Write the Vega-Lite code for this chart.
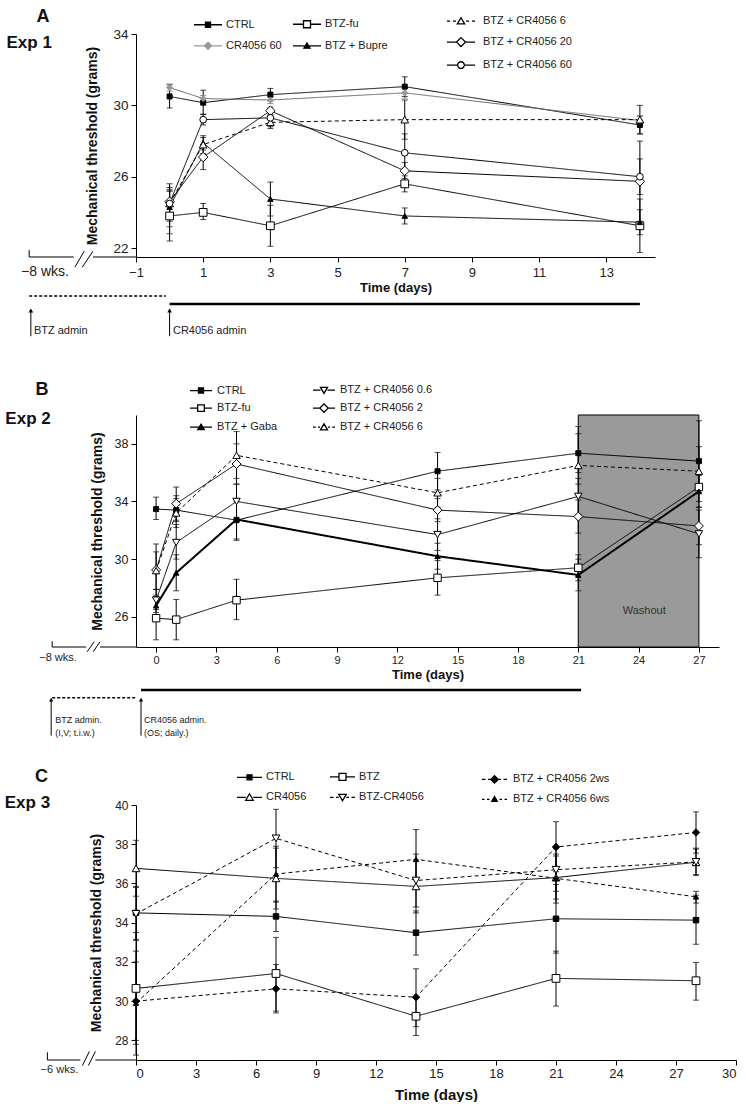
{
  "$schema": "https://vega.github.io/schema/vega-lite/v6.json",
  "background": "white",
  "padding": {"left": 4, "top": 6, "right": 0, "bottom": 0},
  "bounds": "flush",
  "spacing": 158,
  "resolve": {
    "scale": {"color": "independent", "fill": "independent", "stroke": "independent", "strokeDash": "independent", "shape": "independent", "size": "independent"},
    "legend": {"shape": "independent", "color": "independent", "fill": "independent", "stroke": "independent", "strokeDash": "independent", "size": "independent"}
  },
  "config": {
    "view": {"stroke": null},
    "font": "Liberation Sans",
    "axis": {"domainColor": "#000", "tickColor": "#000", "labelColor": "#222", "titleColor": "#111", "grid": false, "tickSize": 5, "labelFont": "Liberation Sans", "titleFont": "Liberation Sans", "titleFontWeight": "bold", "labelOverlap": false},
    "legend": {"labelFont": "Liberation Sans", "labelFontSize": 11, "labelColor": "#222", "padding": 0, "symbolStrokeWidth": 1.3, "orient": "none", "title": null}
  },
  "datasets": {
    "a": [
      {"series": "CTRL", "day": 0, "mean": 30.5, "lo": 29.85, "hi": 31.15},
      {"series": "CTRL", "day": 1, "mean": 30.15, "lo": 29.5, "hi": 30.85},
      {"series": "CTRL", "day": 3, "mean": 30.6, "lo": 30.25, "hi": 30.95},
      {"series": "CTRL", "day": 7, "mean": 31.05, "lo": 30.5, "hi": 31.6},
      {"series": "CTRL", "day": 14, "mean": 28.9, "lo": 28.4, "hi": 29.4},
      {"series": "CR4056 60", "day": 0, "mean": 31.0, "lo": 30.8, "hi": 31.2},
      {"series": "CR4056 60", "day": 1, "mean": 30.38, "lo": 30.2, "hi": 30.55},
      {"series": "CR4056 60", "day": 3, "mean": 30.3, "lo": 30.1, "hi": 30.5},
      {"series": "CR4056 60", "day": 7, "mean": 30.7, "lo": 30.4, "hi": 31.0},
      {"series": "CR4056 60", "day": 14, "mean": 29.15, "lo": 28.9, "hi": 29.4},
      {"series": "BTZ-fu", "day": 0, "mean": 23.8, "lo": 22.4, "hi": 25.2},
      {"series": "BTZ-fu", "day": 1, "mean": 24.0, "lo": 23.6, "hi": 24.5},
      {"series": "BTZ-fu", "day": 3, "mean": 23.25, "lo": 22.1, "hi": 24.4},
      {"series": "BTZ-fu", "day": 7, "mean": 25.6, "lo": 25.15, "hi": 26.05},
      {"series": "BTZ-fu", "day": 14, "mean": 23.25, "lo": 21.75, "hi": 24.75},
      {"series": "BTZ + Bupre", "day": 0, "mean": 24.3, "lo": 23.2, "hi": 25.4},
      {"series": "BTZ + Bupre", "day": 1, "mean": 27.9, "lo": 27.5, "hi": 28.3},
      {"series": "BTZ + Bupre", "day": 3, "mean": 24.75, "lo": 23.8, "hi": 25.7},
      {"series": "BTZ + Bupre", "day": 7, "mean": 23.8, "lo": 23.35, "hi": 24.25},
      {"series": "BTZ + Bupre", "day": 14, "mean": 23.45, "lo": 22.75, "hi": 24.15},
      {"series": "BTZ + CR4056 6", "day": 0, "mean": 24.5, "lo": 23.5, "hi": 25.6},
      {"series": "BTZ + CR4056 6", "day": 1, "mean": 27.8, "lo": 27.3, "hi": 28.2},
      {"series": "BTZ + CR4056 6", "day": 3, "mean": 29.05, "lo": 28.7, "hi": 29.4},
      {"series": "BTZ + CR4056 6", "day": 7, "mean": 29.2, "lo": 28.1, "hi": 30.3},
      {"series": "BTZ + CR4056 6", "day": 14, "mean": 29.2, "lo": 28.4, "hi": 30.0},
      {"series": "BTZ + CR4056 20", "day": 0, "mean": 24.6, "lo": 24.0, "hi": 25.2},
      {"series": "BTZ + CR4056 20", "day": 1, "mean": 27.1, "lo": 26.4, "hi": 27.75},
      {"series": "BTZ + CR4056 20", "day": 3, "mean": 29.7, "lo": 29.5, "hi": 29.9},
      {"series": "BTZ + CR4056 20", "day": 7, "mean": 26.33, "lo": 25.9, "hi": 26.8},
      {"series": "BTZ + CR4056 20", "day": 14, "mean": 25.74, "lo": 23.5, "hi": 28.0},
      {"series": "BTZ + CR4056 60", "day": 0, "mean": 24.5, "lo": 22.8, "hi": 25.3},
      {"series": "BTZ + CR4056 60", "day": 1, "mean": 29.2, "lo": 28.9, "hi": 29.5},
      {"series": "BTZ + CR4056 60", "day": 3, "mean": 29.3, "lo": 28.8, "hi": 29.7},
      {"series": "BTZ + CR4056 60", "day": 7, "mean": 27.34, "lo": 26.3, "hi": 28.4},
      {"series": "BTZ + CR4056 60", "day": 14, "mean": 26.0, "lo": 25.0, "hi": 27.0}
    ],
    "b": [
      {"series": "CTRL", "day": 0, "mean": 33.47, "lo": 32.75, "hi": 34.3},
      {"series": "CTRL", "day": 1, "mean": 33.4, "lo": 32.6, "hi": 34.2},
      {"series": "CTRL", "day": 4, "mean": 32.7, "lo": 31.4, "hi": 34.0},
      {"series": "CTRL", "day": 14, "mean": 36.1, "lo": 34.8, "hi": 37.4},
      {"series": "CTRL", "day": 21, "mean": 37.35, "lo": 36.0, "hi": 38.7},
      {"series": "CTRL", "day": 27, "mean": 36.8, "lo": 35.9, "hi": 37.8},
      {"series": "BTZ-fu", "day": 0, "mean": 25.9, "lo": 24.4, "hi": 27.4},
      {"series": "BTZ-fu", "day": 1, "mean": 25.8, "lo": 24.4, "hi": 27.2},
      {"series": "BTZ-fu", "day": 4, "mean": 27.15, "lo": 25.8, "hi": 28.6},
      {"series": "BTZ-fu", "day": 14, "mean": 28.7, "lo": 27.5, "hi": 29.9},
      {"series": "BTZ-fu", "day": 21, "mean": 29.4, "lo": 28.5, "hi": 30.3},
      {"series": "BTZ-fu", "day": 27, "mean": 35.0, "lo": 34.0, "hi": 36.0},
      {"series": "BTZ + Gaba", "day": 0, "mean": 26.77, "lo": 26.3, "hi": 27.3},
      {"series": "BTZ + Gaba", "day": 1, "mean": 29.05, "lo": 27.8, "hi": 30.3},
      {"series": "BTZ + Gaba", "day": 4, "mean": 32.75, "lo": 31.3, "hi": 34.2},
      {"series": "BTZ + Gaba", "day": 14, "mean": 30.2, "lo": 29.3, "hi": 31.1},
      {"series": "BTZ + Gaba", "day": 21, "mean": 28.9, "lo": 27.8, "hi": 30.0},
      {"series": "BTZ + Gaba", "day": 27, "mean": 34.7, "lo": 33.6, "hi": 35.8},
      {"series": "BTZ + CR4056 0.6", "day": 0, "mean": 27.15, "lo": 26.5, "hi": 27.9},
      {"series": "BTZ + CR4056 0.6", "day": 1, "mean": 31.15, "lo": 30.0, "hi": 32.4},
      {"series": "BTZ + CR4056 0.6", "day": 4, "mean": 34.0, "lo": 32.9, "hi": 35.2},
      {"series": "BTZ + CR4056 0.6", "day": 14, "mean": 31.7, "lo": 30.6, "hi": 32.8},
      {"series": "BTZ + CR4056 0.6", "day": 21, "mean": 34.35, "lo": 33.1, "hi": 35.6},
      {"series": "BTZ + CR4056 0.6", "day": 27, "mean": 31.75, "lo": 30.1, "hi": 33.4},
      {"series": "BTZ + CR4056 2", "day": 0, "mean": 29.25, "lo": 27.5, "hi": 31.05},
      {"series": "BTZ + CR4056 2", "day": 1, "mean": 33.85, "lo": 32.7, "hi": 35.0},
      {"series": "BTZ + CR4056 2", "day": 4, "mean": 36.6, "lo": 35.2, "hi": 38.0},
      {"series": "BTZ + CR4056 2", "day": 14, "mean": 33.4, "lo": 32.6, "hi": 34.2},
      {"series": "BTZ + CR4056 2", "day": 21, "mean": 32.95, "lo": 31.8, "hi": 34.1},
      {"series": "BTZ + CR4056 2", "day": 27, "mean": 32.3, "lo": 31.0, "hi": 33.6},
      {"series": "BTZ + CR4056 6", "day": 0, "mean": 29.2, "lo": 27.9, "hi": 30.5},
      {"series": "BTZ + CR4056 6", "day": 1, "mean": 33.2, "lo": 32.2, "hi": 34.4},
      {"series": "BTZ + CR4056 6", "day": 4, "mean": 37.2, "lo": 35.6, "hi": 38.85},
      {"series": "BTZ + CR4056 6", "day": 14, "mean": 34.6, "lo": 33.6, "hi": 35.6},
      {"series": "BTZ + CR4056 6", "day": 21, "mean": 36.5, "lo": 35.2, "hi": 39.2},
      {"series": "BTZ + CR4056 6", "day": 27, "mean": 36.1, "lo": 34.6, "hi": 39.6}
    ],
    "c": [
      {"series": "CTRL", "day": 0, "mean": 34.5, "lo": 33.15, "hi": 35.85},
      {"series": "CTRL", "day": 7, "mean": 34.32, "lo": 33.55, "hi": 35.1},
      {"series": "CTRL", "day": 14, "mean": 33.49, "lo": 32.35, "hi": 34.6},
      {"series": "CTRL", "day": 21, "mean": 34.2, "lo": 32.45, "hi": 35.95},
      {"series": "CTRL", "day": 28, "mean": 34.13, "lo": 32.9, "hi": 35.4},
      {"series": "CR4056", "day": 0, "mean": 36.77, "lo": 35.35, "hi": 38.2},
      {"series": "CR4056", "day": 7, "mean": 36.26, "lo": 34.7, "hi": 37.8},
      {"series": "CR4056", "day": 14, "mean": 35.85, "lo": 34.5, "hi": 37.2},
      {"series": "CR4056", "day": 21, "mean": 36.3, "lo": 35.2, "hi": 37.4},
      {"series": "CR4056", "day": 28, "mean": 37.08, "lo": 36.45, "hi": 37.75},
      {"series": "BTZ", "day": 0, "mean": 30.65, "lo": 27.8, "hi": 33.5},
      {"series": "BTZ", "day": 7, "mean": 31.41, "lo": 29.4, "hi": 33.25},
      {"series": "BTZ", "day": 14, "mean": 29.23, "lo": 28.25, "hi": 30.2},
      {"series": "BTZ", "day": 21, "mean": 31.16, "lo": 29.75, "hi": 32.55},
      {"series": "BTZ", "day": 28, "mean": 31.04, "lo": 30.05, "hi": 31.97},
      {"series": "BTZ-CR4056", "day": 0, "mean": 34.45, "lo": 33.1, "hi": 35.8},
      {"series": "BTZ-CR4056", "day": 7, "mean": 38.3, "lo": 36.8, "hi": 39.78},
      {"series": "BTZ-CR4056", "day": 14, "mean": 36.15, "lo": 34.8, "hi": 37.5},
      {"series": "BTZ-CR4056", "day": 21, "mean": 36.7, "lo": 35.6, "hi": 37.8},
      {"series": "BTZ-CR4056", "day": 28, "mean": 37.1, "lo": 36.4, "hi": 37.8},
      {"series": "BTZ + CR4056 2ws", "day": 0, "mean": 30.0, "lo": 28.0, "hi": 32.0},
      {"series": "BTZ + CR4056 2ws", "day": 7, "mean": 30.63, "lo": 29.49, "hi": 31.87},
      {"series": "BTZ + CR4056 2ws", "day": 14, "mean": 30.2, "lo": 28.7, "hi": 31.65},
      {"series": "BTZ + CR4056 2ws", "day": 21, "mean": 37.86, "lo": 36.6, "hi": 39.15},
      {"series": "BTZ + CR4056 2ws", "day": 28, "mean": 38.6, "lo": 37.55, "hi": 39.65},
      {"series": "BTZ + CR4056 6ws", "day": 0, "mean": 29.9, "lo": 27.25, "hi": 32.55},
      {"series": "BTZ + CR4056 6ws", "day": 7, "mean": 36.48, "lo": 35.05, "hi": 37.9},
      {"series": "BTZ + CR4056 6ws", "day": 14, "mean": 37.23, "lo": 35.7, "hi": 38.75},
      {"series": "BTZ + CR4056 6ws", "day": 21, "mean": 36.26, "lo": 35.0, "hi": 37.5},
      {"series": "BTZ + CR4056 6ws", "day": 28, "mean": 35.32, "lo": 35.0, "hi": 35.6}
    ]
  },
  "vconcat": [
    {
      "width": 519,
      "height": 223,
      "data": {"name": "a"},
      "layer": [
        {
          "mark": {"type": "rule", "strokeWidth": 1},
          "encoding": {
            "x": {"field": "day", "type": "quantitative", "scale": {"domain": [-1, 14.45], "nice": false, "zero": false},
              "axis": {"values": [-1, 0, 1, 2, 3, 4, 5, 6, 7, 8, 9, 10, 11, 12, 13, 14], "labelExpr": "datum.value === 0 ? '' : datum.label", "labelOverlap": false, "labelFlush": false, "title": "Time (days)", "labelFontSize": 13, "titleFontSize": 13, "labelPadding": 4, "titlePadding": 2}},
            "y": {"field": "lo", "type": "quantitative", "scale": {"domain": [21.5, 34], "nice": false, "zero": false},
              "axis": {"values": [22, 24, 26, 28, 30, 32, 34], "title": "Mechanical threshold (grams)", "labelFontSize": 13.5, "titleFontSize": 14, "labelPadding": 3, "titlePadding": 13}},
            "y2": {"field": "hi"},
            "color": {"field": "series", "type": "nominal", "scale": {"domain": ["CTRL", "CR4056 60", "BTZ-fu", "BTZ + Bupre", "BTZ + CR4056 6", "BTZ + CR4056 20", "BTZ + CR4056 60"], "range": ["#000", "#666", "#000", "#000", "#000", "#000", "#000"]}, "legend": null}
          }
        },
        {
          "mark": {"type": "tick", "orient": "horizontal", "size": 6, "thickness": 1},
          "encoding": {"x": {"field": "day", "type": "quantitative"}, "y": {"field": "lo", "type": "quantitative"}, "color": {"field": "series", "type": "nominal", "legend": null}}
        },
        {
          "mark": {"type": "tick", "orient": "horizontal", "size": 6, "thickness": 1},
          "encoding": {"x": {"field": "day", "type": "quantitative"}, "y": {"field": "hi", "type": "quantitative"}, "color": {"field": "series", "type": "nominal", "legend": null}}
        },
        {
          "mark": {"type": "line", "strokeWidth": 1},
          "encoding": {
            "x": {"field": "day", "type": "quantitative"},
            "y": {"field": "mean", "type": "quantitative"},
            "color": {"field": "series", "type": "nominal", "legend": null},
            "strokeDash": {"field": "series", "type": "nominal", "scale": {"domain": ["CTRL", "CR4056 60", "BTZ-fu", "BTZ + Bupre", "BTZ + CR4056 6", "BTZ + CR4056 20", "BTZ + CR4056 60"], "range": [[1, 0], [1, 0], [1, 0], [1, 0], [4, 3], [1, 0], [1, 0]]}, "legend": null}
          }
        },
        {
          "transform": [{"filter": {"field": "series", "oneOf": ["CTRL", "CR4056 60", "BTZ-fu", "BTZ + Bupre"]}}],
          "mark": {"type": "point", "filled": true, "opacity": 1, "strokeWidth": 1},
          "encoding": {
            "x": {"field": "day", "type": "quantitative"},
            "y": {"field": "mean", "type": "quantitative"},
            "shape": {"field": "series", "type": "nominal", "scale": {"domain": ["BTZ + Bupre", "BTZ-fu", "CR4056 60", "CTRL"], "range": ["triangle-up", "square", "diamond", "square"]}, "legend": null},
            "fill": {"field": "series", "type": "nominal", "scale": {"domain": ["CTRL", "CR4056 60", "BTZ-fu", "BTZ + Bupre"], "range": ["#000", "#999", "#fff", "#000"]},
              "legend": {"orient": "none", "legendX": 57, "legendY": -25.2, "columns": 2, "columnPadding": 8, "rowPadding": -6, "symbolSize": 784, "labelOffset": 3,
                "encoding": {"symbols": {
                  "shape": {"value": {"expr": "datum.value === 'CTRL' ? 'M-1,0H1M-0.18,-0.18H0.18V0.18H-0.18Z' : datum.value === 'CR4056 60' ? 'M-1,0H1M0,-0.25L0.25,0L0,0.25L-0.25,0Z' : datum.value === 'BTZ-fu' ? 'M-1,0H-0.25M0.25,0H1M-0.25,-0.25H0.25V0.25H-0.25Z' : 'M-1,0H1M0,-0.2L0.22,0.17L-0.22,0.17Z'"}},
                  "stroke": {"value": {"expr": "datum.value === 'CR4056 60' ? '#999' : '#000'"}},
                  "opacity": {"value": 1}
                }}}},
            "stroke": {"field": "series", "type": "nominal", "scale": {"domain": ["BTZ-fu", "CTRL", "BTZ + Bupre", "CR4056 60"], "range": ["#000", "#000", "#000", "#999"]}, "legend": null},
            "size": {"condition": [{"test": "datum.series === 'CTRL'", "value": 25}, {"test": "datum.series === 'BTZ + Bupre'", "value": 30}, {"test": "datum.series === 'CR4056 60'", "value": 36}], "value": 60}
          }
        },
        {
          "transform": [{"filter": {"field": "series", "oneOf": ["BTZ + CR4056 6", "BTZ + CR4056 20", "BTZ + CR4056 60"]}}],
          "mark": {"type": "point", "filled": true, "opacity": 1, "strokeWidth": 1, "stroke": "#000"},
          "encoding": {
            "x": {"field": "day", "type": "quantitative"},
            "y": {"field": "mean", "type": "quantitative"},
            "shape": {"field": "series", "type": "nominal", "scale": {"domain": ["BTZ + CR4056 60", "BTZ + CR4056 20", "BTZ + CR4056 6"], "range": ["circle", "diamond", "triangle-up"]}, "legend": null},
            "fill": {"field": "series", "type": "nominal", "scale": {"domain": ["BTZ + CR4056 6", "BTZ + CR4056 20", "BTZ + CR4056 60"], "range": ["#fff", "#fff", "#fff"]},
              "legend": {"orient": "none", "legendX": 310, "legendY": -27.9, "columns": 1, "rowPadding": -4.5, "symbolSize": 784, "labelOffset": 7,
                "encoding": {"symbols": {
                  "shape": {"value": {"expr": "datum.value === 'BTZ + CR4056 6' ? 'M-1,0H-0.78M-0.58,0H-0.36M0.36,0H0.58M0.78,0H1M0,-0.24L0.26,0.2L-0.26,0.2Z' : datum.value === 'BTZ + CR4056 20' ? 'M-1,0H-0.32M0.32,0H1M0,-0.32L0.32,0L0,0.32L-0.32,0Z' : 'M-1,0H-0.24M0.24,0H1M0.24,0A0.24,0.24,0,1,1,-0.24,0A0.24,0.24,0,1,1,0.24,0Z'"}},
                  "stroke": {"value": "#000"},
                  "opacity": {"value": 1}
                }}}},
            "size": {"condition": [{"test": "datum.series === 'BTZ + CR4056 20'", "value": 90}, {"test": "datum.series === 'BTZ + CR4056 60'", "value": 45}], "value": 60}
          }
        },
        {"data": {"values": [{}]}, "mark": {"type": "rule", "color": "#000", "strokeWidth": 1}, "encoding": {"x": {"datum": -2.28}, "x2": {"datum": -1}, "y": {"datum": 21.5}}},
        {"data": {"values": [{}]}, "mark": {"type": "rule", "color": "#000", "strokeWidth": 1}, "encoding": {"x": {"datum": -4.18}, "x2": {"datum": -2.85}, "y": {"datum": 21.5}}},
        {"data": {"values": [{}]}, "mark": {"type": "rule", "color": "#000", "strokeWidth": 1}, "encoding": {"x": {"datum": -4.18}, "y": {"datum": 21.5}, "y2": {"datum": 21.9}}},
        {"data": {"values": [{}]}, "mark": {"type": "rule", "color": "#000", "strokeWidth": 1}, "encoding": {"x": {"datum": -2.82}, "x2": {"datum": -2.54}, "y": {"datum": 20.93}, "y2": {"datum": 21.83}}},
        {"data": {"values": [{}]}, "mark": {"type": "rule", "color": "#000", "strokeWidth": 1}, "encoding": {"x": {"datum": -2.6}, "x2": {"datum": -2.28}, "y": {"datum": 20.93}, "y2": {"datum": 21.83}}},
        {"data": {"values": [{}]}, "mark": {"type": "text", "text": "\u22128 wks.", "fontSize": 14, "align": "center", "baseline": "middle", "color": "#222"}, "encoding": {"x": {"datum": -3.71}, "y": {"datum": 20.65}}},
        {"data": {"values": [{}]}, "mark": {"type": "rule", "color": "#000", "strokeWidth": 1.5, "strokeDash": [3, 2]}, "encoding": {"x": {"datum": -4.18}, "x2": {"datum": -0.11}, "y": {"datum": 19.31}}},
        {"data": {"values": [{}]}, "mark": {"type": "rule", "color": "#000", "strokeWidth": 2.5}, "encoding": {"x": {"datum": 0}, "x2": {"datum": 14}, "y": {"datum": 18.86}}},
        {"data": {"values": [{}]}, "mark": {"type": "rule", "color": "#000", "strokeWidth": 1}, "encoding": {"x": {"datum": -4.13}, "y": {"datum": 17.06}, "y2": {"datum": 18.5}}},
        {"data": {"values": [{}]}, "mark": {"type": "rule", "color": "#000", "strokeWidth": 1}, "encoding": {"x": {"datum": 0}, "y": {"datum": 17.06}, "y2": {"datum": 18.5}}},
        {"data": {"values": [{}]}, "mark": {"type": "point", "shape": "triangle-up", "filled": true, "color": "#000", "size": 22, "opacity": 1}, "encoding": {"x": {"datum": -4.13}, "y": {"datum": 18.5}}},
        {"data": {"values": [{}]}, "mark": {"type": "point", "shape": "triangle-up", "filled": true, "color": "#000", "size": 22, "opacity": 1}, "encoding": {"x": {"datum": 0}, "y": {"datum": 18.5}}},
        {"data": {"values": [{}]}, "mark": {"type": "text", "text": "BTZ admin", "fontSize": 11, "align": "left", "baseline": "middle", "color": "#222"}, "encoding": {"x": {"datum": -4.04}, "y": {"datum": 17.34}}},
        {"data": {"values": [{}]}, "mark": {"type": "text", "text": "CR4056 admin", "fontSize": 11, "align": "left", "baseline": "middle", "color": "#222"}, "encoding": {"x": {"datum": 0.1}, "y": {"datum": 17.34}}},
        {"data": {"values": [{}]}, "mark": {"type": "text", "text": "A", "fontSize": 18, "fontWeight": "bold", "align": "center", "baseline": "middle", "color": "#111"}, "encoding": {"x": {"datum": -3.77}, "y": {"datum": 34.98}}},
        {"data": {"values": [{}]}, "mark": {"type": "text", "text": "Exp 1", "fontSize": 17, "fontWeight": "bold", "align": "center", "baseline": "middle", "color": "#111"}, "encoding": {"x": {"datum": -4.18}, "y": {"datum": 33.52}}}
      ],
      "resolve": {"scale": {"shape": "independent", "fill": "independent", "stroke": "independent", "strokeDash": "independent"}, "legend": {"fill": "independent"}}
    },
    {
      "width": 583,
      "height": 232,
      "data": {"name": "b"},
      "layer": [
        {"data": {"values": [{}]}, "mark": {"type": "rect", "fill": "#9a9a9a", "stroke": "#000", "strokeWidth": 1}, "encoding": {
          "x": {"datum": 21, "type": "quantitative", "scale": {"domain": [-1, 28], "nice": false, "zero": false},
            "axis": {"values": [0, 3, 6, 9, 12, 15, 18, 21, 24, 27], "labelOverlap": false, "title": "Time (days)", "labelFontSize": 11, "titleFontSize": 13, "labelPadding": 2, "titlePadding": 3}},
          "x2": {"datum": 27},
          "y": {"datum": 23.9, "type": "quantitative", "scale": {"domain": [23.9, 40], "nice": false, "zero": false},
            "axis": {"values": [26, 28, 30, 32, 34, 36, 38, 40], "title": "Mechanical threshold (grams)", "labelFontSize": 12.5, "titleFontSize": 14, "labelPadding": 3, "titlePadding": 10}},
          "y2": {"datum": 40}}},
        {"data": {"values": [{}]}, "mark": {"type": "text", "text": "Washout", "fontSize": 11, "align": "center", "baseline": "middle", "color": "#333"}, "encoding": {"x": {"datum": 24.28}, "y": {"datum": 26.42}}},
        {
          "mark": {"type": "rule", "strokeWidth": 1, "color": "#000"},
          "encoding": {
            "x": {"field": "day", "type": "quantitative"},
            "y": {"field": "lo", "type": "quantitative"},
            "y2": {"field": "hi"}
          }
        },
        {
          "mark": {"type": "tick", "orient": "horizontal", "size": 6, "thickness": 1, "color": "#000"},
          "encoding": {"x": {"field": "day", "type": "quantitative"}, "y": {"field": "lo", "type": "quantitative"}}
        },
        {
          "mark": {"type": "tick", "orient": "horizontal", "size": 6, "thickness": 1, "color": "#000"},
          "encoding": {"x": {"field": "day", "type": "quantitative"}, "y": {"field": "hi", "type": "quantitative"}}
        },
        {
          "mark": {"type": "line", "color": "#000"},
          "encoding": {
            "x": {"field": "day", "type": "quantitative"},
            "y": {"field": "mean", "type": "quantitative"},
            "detail": {"field": "series", "type": "nominal"},
            "strokeWidth": {"condition": {"test": "datum.series === 'BTZ + Gaba'", "value": 2}, "value": 1},
            "strokeDash": {"field": "series", "type": "nominal", "scale": {"domain": ["BTZ + CR4056 6", "CTRL", "BTZ-fu", "BTZ + Gaba", "BTZ + CR4056 0.6", "BTZ + CR4056 2"], "range": [[4, 3], [1, 0], [1, 0], [1, 0], [1, 0], [1, 0]]}, "legend": null}
          }
        },
        {
          "mark": {"type": "point", "filled": true, "opacity": 1, "strokeWidth": 1, "stroke": "#000"},
          "encoding": {
            "x": {"field": "day", "type": "quantitative"},
            "y": {"field": "mean", "type": "quantitative"},
            "shape": {"field": "series", "type": "nominal", "scale": {"domain": ["BTZ + CR4056 6", "BTZ + CR4056 2", "BTZ + CR4056 0.6", "BTZ + Gaba", "BTZ-fu", "CTRL"], "range": ["triangle-up", "diamond", "triangle-down", "triangle-up", "square", "square"]}, "legend": null},
            "fill": {"field": "series", "type": "nominal", "scale": {"domain": ["CTRL", "BTZ-fu", "BTZ + Gaba", "BTZ + CR4056 0.6", "BTZ + CR4056 2", "BTZ + CR4056 6"], "range": ["#000", "#fff", "#000", "#fff", "#fff", "#fff"]},
              "legend": {"orient": "none", "legendX": 53, "legendY": -36.9, "columns": 2, "columnPadding": 32, "rowPadding": -4.1, "symbolSize": 484, "labelOffset": 4,
                "encoding": {"symbols": {
                  "shape": {"value": {"expr": "datum.value === 'CTRL' ? 'M-1,0H1M-0.23,-0.23H0.23V0.23H-0.23Z' : datum.value === 'BTZ-fu' ? 'M-1,0H-0.3M0.3,0H1M-0.3,-0.3H0.3V0.3H-0.3Z' : datum.value === 'BTZ + Gaba' ? 'M-1,0H1M0,-0.27L0.3,0.22L-0.3,0.22Z' : datum.value === 'BTZ + CR4056 0.6' ? 'M-1,0H-0.32M0.32,0H1M0,0.3L0.32,-0.25L-0.32,-0.25Z' : datum.value === 'BTZ + CR4056 2' ? 'M-1,0H-0.38M0.38,0H1M0,-0.38L0.38,0L0,0.38L-0.38,0Z' : 'M-1,0H-0.75M-0.55,0H-0.35M0.35,0H0.55M0.75,0H1M0,-0.3L0.32,0.25L-0.32,0.25Z'"}},
                  "stroke": {"value": "#000"},
                  "opacity": {"value": 1}
                }}}},
            "size": {"condition": [{"test": "datum.series === 'CTRL'", "value": 25}, {"test": "datum.series === 'BTZ + Gaba'", "value": 30}, {"test": "datum.series === 'BTZ + CR4056 2'", "value": 80}], "value": 55}
          }
        },
        {"data": {"values": [{}]}, "mark": {"type": "rule", "color": "#000", "strokeWidth": 1}, "encoding": {"x": {"datum": -2.79}, "x2": {"datum": -1}, "y": {"datum": 23.9}}},
        {"data": {"values": [{}]}, "mark": {"type": "rule", "color": "#000", "strokeWidth": 1}, "encoding": {"x": {"datum": -5.17}, "x2": {"datum": -3.48}, "y": {"datum": 23.9}}},
        {"data": {"values": [{}]}, "mark": {"type": "rule", "color": "#000", "strokeWidth": 1}, "encoding": {"x": {"datum": -5.17}, "y": {"datum": 23.9}, "y2": {"datum": 24.3}}},
        {"data": {"values": [{}]}, "mark": {"type": "rule", "color": "#000", "strokeWidth": 1}, "encoding": {"x": {"datum": -3.43}, "x2": {"datum": -3.08}, "y": {"datum": 23.57}, "y2": {"datum": 24.26}}},
        {"data": {"values": [{}]}, "mark": {"type": "rule", "color": "#000", "strokeWidth": 1}, "encoding": {"x": {"datum": -3.13}, "x2": {"datum": -2.79}, "y": {"datum": 23.57}, "y2": {"datum": 24.26}}},
        {"data": {"values": [{}]}, "mark": {"type": "text", "text": "\u22128 wks.", "fontSize": 11, "align": "center", "baseline": "middle", "color": "#222"}, "encoding": {"x": {"datum": -4.88}, "y": {"datum": 23.15}}},
        {"data": {"values": [{}]}, "mark": {"type": "rule", "color": "#000", "strokeWidth": 1.5, "strokeDash": [3, 2]}, "encoding": {"x": {"datum": -5.17}, "x2": {"datum": -0.95}, "y": {"datum": 20.38}}},
        {"data": {"values": [{}]}, "mark": {"type": "rule", "color": "#000", "strokeWidth": 2.5}, "encoding": {"x": {"datum": -0.75}, "x2": {"datum": 21.14}, "y": {"datum": 20.92}}},
        {"data": {"values": [{}]}, "mark": {"type": "rule", "color": "#000", "strokeWidth": 1}, "encoding": {"x": {"datum": -5.22}, "y": {"datum": 17.75}, "y2": {"datum": 20.25}}},
        {"data": {"values": [{}]}, "mark": {"type": "rule", "color": "#000", "strokeWidth": 1}, "encoding": {"x": {"datum": -0.75}, "y": {"datum": 17.75}, "y2": {"datum": 20.25}}},
        {"data": {"values": [{}]}, "mark": {"type": "point", "shape": "triangle-up", "filled": true, "color": "#000", "size": 18, "opacity": 1}, "encoding": {"x": {"datum": -5.22}, "y": {"datum": 20.25}}},
        {"data": {"values": [{}]}, "mark": {"type": "point", "shape": "triangle-up", "filled": true, "color": "#000", "size": 18, "opacity": 1}, "encoding": {"x": {"datum": -0.75}, "y": {"datum": 20.25}}},
        {"data": {"values": [{}]}, "mark": {"type": "text", "text": "BTZ admin.", "fontSize": 9, "align": "left", "baseline": "middle", "color": "#222"}, "encoding": {"x": {"datum": -5.02}, "y": {"datum": 18.83}}},
        {"data": {"values": [{}]}, "mark": {"type": "text", "text": "(I,V; t.i.w.)", "fontSize": 9, "align": "left", "baseline": "middle", "color": "#222"}, "encoding": {"x": {"datum": -5.02}, "y": {"datum": 17.92}}},
        {"data": {"values": [{}]}, "mark": {"type": "text", "text": "CR4056 admin.", "fontSize": 9, "align": "left", "baseline": "middle", "color": "#222"}, "encoding": {"x": {"datum": -0.6}, "y": {"datum": 18.83}}},
        {"data": {"values": [{}]}, "mark": {"type": "text", "text": "(OS; daily.)", "fontSize": 9, "align": "left", "baseline": "middle", "color": "#222"}, "encoding": {"x": {"datum": -0.6}, "y": {"datum": 17.92}}},
        {"data": {"values": [{}]}, "mark": {"type": "text", "text": "B", "fontSize": 18, "fontWeight": "bold", "align": "center", "baseline": "middle", "color": "#111"}, "encoding": {"x": {"datum": -5.67}, "y": {"datum": 41.74}}},
        {"data": {"values": [{}]}, "mark": {"type": "text", "text": "Exp 2", "fontSize": 17, "fontWeight": "bold", "align": "center", "baseline": "middle", "color": "#111"}, "encoding": {"x": {"datum": -6.37}, "y": {"datum": 39.72}}}
      ],
      "resolve": {"scale": {"shape": "independent", "fill": "independent", "strokeDash": "independent"}, "legend": {"fill": "independent"}}
    },
    {
      "width": 600,
      "height": 255,
      "data": {"name": "c"},
      "layer": [
        {
          "mark": {"type": "rule", "strokeWidth": 1, "color": "#000"},
          "encoding": {
            "x": {"field": "day", "type": "quantitative", "scale": {"domain": [0, 30], "nice": false, "zero": false},
              "axis": {"values": [0, 3, 6, 9, 12, 15, 18, 21, 24, 27, 30], "labelOverlap": false, "title": "Time (days)", "labelFontSize": 13, "titleFontSize": 15, "labelPadding": 2, "titlePadding": 7}},
            "y": {"field": "lo", "type": "quantitative", "scale": {"domain": [27, 40], "nice": false, "zero": false},
              "axis": {"values": [28, 30, 32, 34, 36, 38, 40], "title": "Mechanical threshold (grams)", "labelFontSize": 12, "titleFontSize": 14, "labelPadding": 3, "titlePadding": 11}},
            "y2": {"field": "hi"}
          }
        },
        {
          "mark": {"type": "tick", "orient": "horizontal", "size": 6, "thickness": 1, "color": "#000"},
          "encoding": {"x": {"field": "day", "type": "quantitative"}, "y": {"field": "lo", "type": "quantitative"}}
        },
        {
          "mark": {"type": "tick", "orient": "horizontal", "size": 6, "thickness": 1, "color": "#000"},
          "encoding": {"x": {"field": "day", "type": "quantitative"}, "y": {"field": "hi", "type": "quantitative"}}
        },
        {
          "mark": {"type": "line", "strokeWidth": 1, "color": "#000"},
          "encoding": {
            "x": {"field": "day", "type": "quantitative"},
            "y": {"field": "mean", "type": "quantitative"},
            "detail": {"field": "series", "type": "nominal"},
            "strokeDash": {"field": "series", "type": "nominal", "scale": {"domain": ["CTRL", "CR4056", "BTZ", "BTZ-CR4056", "BTZ + CR4056 2ws", "BTZ + CR4056 6ws"], "range": [[1, 0], [1, 0], [1, 0], [4, 3], [4, 3], [4, 3]]}, "legend": null}
          }
        },
        {
          "transform": [{"filter": {"field": "series", "oneOf": ["CTRL", "BTZ", "CR4056", "BTZ-CR4056"]}}],
          "mark": {"type": "point", "filled": true, "opacity": 1, "strokeWidth": 1, "stroke": "#000"},
          "encoding": {
            "x": {"field": "day", "type": "quantitative"},
            "y": {"field": "mean", "type": "quantitative"},
            "shape": {"field": "series", "type": "nominal", "scale": {"domain": ["BTZ-CR4056", "BTZ", "CR4056", "CTRL"], "range": ["triangle-down", "square", "triangle-up", "square"]}, "legend": null},
            "fill": {"field": "series", "type": "nominal", "scale": {"domain": ["CTRL", "CR4056", "BTZ", "BTZ-CR4056"], "range": ["#000", "#fff", "#fff", "#fff"]},
              "legend": {"orient": "none", "legendX": 100, "legendY": -41.9, "columns": 2, "columnPadding": 20, "rowPadding": 0.7, "symbolSize": 625, "labelOffset": 3,
                "encoding": {"symbols": {
                  "shape": {"value": {"expr": "datum.value === 'CTRL' ? 'M-1,0H1M-0.2,-0.2H0.2V0.2H-0.2Z' : datum.value === 'BTZ' ? 'M-1,0H-0.28M0.28,0H1M-0.28,-0.28H0.28V0.28H-0.28Z' : datum.value === 'CR4056' ? 'M-1,0H-0.3M0.3,0H1M0,-0.28L0.3,0.24L-0.3,0.24Z' : 'M-1,0H-0.72M-0.52,0H-0.3M0.3,0H0.52M0.72,0H1M0,0.28L0.3,-0.24L-0.3,-0.24Z'"}},
                  "stroke": {"value": "#000"},
                  "opacity": {"value": 1}
                }}}},
            "size": {"condition": [{"test": "datum.series === 'CTRL'", "value": 30}], "value": 60}
          }
        },
        {
          "transform": [{"filter": {"field": "series", "oneOf": ["BTZ + CR4056 2ws", "BTZ + CR4056 6ws"]}}],
          "mark": {"type": "point", "filled": true, "opacity": 1, "strokeWidth": 1, "stroke": "#000"},
          "encoding": {
            "x": {"field": "day", "type": "quantitative"},
            "y": {"field": "mean", "type": "quantitative"},
            "shape": {"field": "series", "type": "nominal", "scale": {"domain": ["BTZ + CR4056 6ws", "BTZ + CR4056 2ws"], "range": ["triangle-up", "diamond"]}, "legend": null},
            "fill": {"field": "series", "type": "nominal", "scale": {"domain": ["BTZ + CR4056 2ws", "BTZ + CR4056 6ws"], "range": ["#000", "#000"]},
              "legend": {"orient": "none", "legendX": 345, "legendY": -39.1, "columns": 1, "rowPadding": -5.8, "symbolSize": 625, "labelOffset": 5,
                "encoding": {"symbols": {
                  "shape": {"value": {"expr": "datum.value === 'BTZ + CR4056 2ws' ? 'M-1,0H-0.72M-0.52,0H-0.3M0.3,0H0.52M0.72,0H1M0,-0.3L0.3,0L0,0.3L-0.3,0Z' : 'M-1,0H-0.8M-0.6,0H-0.4M-0.2,0H0.2M0.4,0H0.6M0.8,0H1M0,-0.22L0.22,0.16L-0.22,0.16Z'"}},
                  "stroke": {"value": "#000"},
                  "opacity": {"value": 1}
                }}}},
            "size": {"condition": [{"test": "datum.series === 'BTZ + CR4056 6ws'", "value": 28}], "value": 55}
          }
        },
        {"data": {"values": [{}]}, "mark": {"type": "rule", "color": "#000", "strokeWidth": 1}, "encoding": {"x": {"datum": -2.03}, "x2": {"datum": 0}, "y": {"datum": 27}}},
        {"data": {"values": [{}]}, "mark": {"type": "rule", "color": "#000", "strokeWidth": 1}, "encoding": {"x": {"datum": -4.43}, "x2": {"datum": -2.78}, "y": {"datum": 27}}},
        {"data": {"values": [{}]}, "mark": {"type": "rule", "color": "#000", "strokeWidth": 1}, "encoding": {"x": {"datum": -4.43}, "y": {"datum": 27}, "y2": {"datum": 27.39}}},
        {"data": {"values": [{}]}, "mark": {"type": "rule", "color": "#000", "strokeWidth": 1}, "encoding": {"x": {"datum": -2.68}, "x2": {"datum": -2.33}, "y": {"datum": 26.72}, "y2": {"datum": 27.44}}},
        {"data": {"values": [{}]}, "mark": {"type": "rule", "color": "#000", "strokeWidth": 1}, "encoding": {"x": {"datum": -2.38}, "x2": {"datum": -2.03}, "y": {"datum": 26.72}, "y2": {"datum": 27.44}}},
        {"data": {"values": [{}]}, "mark": {"type": "text", "text": "\u22126 wks.", "fontSize": 11, "align": "center", "baseline": "middle", "color": "#222"}, "encoding": {"x": {"datum": -3.83}, "y": {"datum": 26.47}}},
        {"data": {"values": [{}]}, "mark": {"type": "text", "text": "C", "fontSize": 18, "fontWeight": "bold", "align": "center", "baseline": "middle", "color": "#111"}, "encoding": {"x": {"datum": -4.73}, "y": {"datum": 41.44}}},
        {"data": {"values": [{}]}, "mark": {"type": "text", "text": "Exp 3", "fontSize": 17, "fontWeight": "bold", "align": "center", "baseline": "middle", "color": "#111"}, "encoding": {"x": {"datum": -5.43}, "y": {"datum": 40.12}}}
      ],
      "resolve": {"scale": {"shape": "independent", "fill": "independent", "strokeDash": "independent"}, "legend": {"fill": "independent"}}
    }
  ]
}
